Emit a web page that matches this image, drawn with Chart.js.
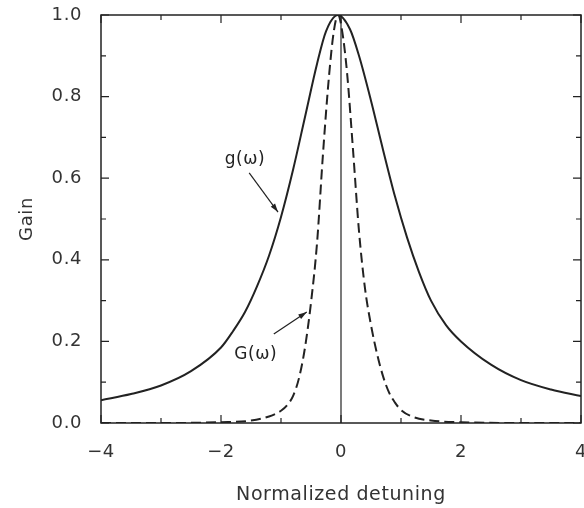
<!DOCTYPE html>
<html>
<head>
<meta charset="utf-8">
<script src="https://cdn.jsdelivr.net/npm/chart.js@4.4.0/dist/chart.umd.min.js"></script>
<style>
  html, body { margin: 0; padding: 0; background: #fff; }
</style>
</head>
<body>
<canvas id="chart" width="584" height="508"></canvas>
<script>
// solid curve g(w)
const smallGX = [-4, -3.5, -3, -2.5, -2, -1.8, -1.6, -1.4, -1.2, -1.0, -0.8, -0.6, -0.4, -0.25, -0.05, 0.15, 0.3, 0.5, 0.7, 0.9, 1.1, 1.3, 1.5, 1.75, 2.0, 2.5, 3.0, 3.5, 4.0];
const smallGY = [0.056, 0.071, 0.092, 0.127, 0.185, 0.225, 0.272, 0.335, 0.41, 0.505, 0.62, 0.75, 0.88, 0.96, 1.0, 0.965, 0.9, 0.79, 0.67, 0.555, 0.455, 0.37, 0.30, 0.24, 0.20, 0.143, 0.105, 0.082, 0.066];

// dashed curve G(w)
const bigGX = [-4, -3, -2, -1.5, -1.2, -1.0, -0.9, -0.8, -0.7, -0.6, -0.5, -0.4, -0.3, -0.2, -0.12, -0.05, 0.02, 0.1, 0.2, 0.3, 0.4, 0.5, 0.6, 0.7, 0.8, 0.9, 1.0, 1.2, 1.5, 2.0, 3.0, 4.0];
const bigGY = [0.0, 0.0, 0.002, 0.006, 0.016, 0.03, 0.043, 0.066, 0.11, 0.185, 0.295, 0.44, 0.66, 0.85, 0.96, 1.0, 0.96, 0.86, 0.67, 0.47, 0.33, 0.24, 0.17, 0.115, 0.075, 0.05, 0.032, 0.015, 0.006, 0.002, 0.0, 0.0];

// line at zero detuning
const zeroX = [0, 0];
const zeroY = [0, 1];

const xTicks = [-4, -2, 0, 2, 4];
const yTicks = [0, 0.2, 0.4, 0.6, 0.8, 1.0];

const toPoints = (xs, ys) => xs.map((v, i) => ({ x: v, y: ys[i] }));

const ink = "#222";
const font = "'DejaVu Sans', sans-serif";

// frame, inward ticks and the two labelled arrows
const framePlugin = {
  id: "frame",
  beforeDraw(chart) {
    chart.ctx.letterSpacing = "0.6px";
  },
  afterDatasetsDraw(chart) {
    const { ctx, chartArea: a, scales: { x, y } } = chart;
    ctx.save();
    ctx.strokeStyle = ink;
    ctx.lineWidth = 1.5;
    ctx.strokeRect(a.left, a.top, a.right - a.left, a.bottom - a.top);

    ctx.lineWidth = 1.2;
    ctx.beginPath();
    for (let v = -4; v <= 4; v++) {
      const px = x.getPixelForValue(v);
      const len = v % 2 === 0 ? 8 : 5;
      ctx.moveTo(px, a.bottom); ctx.lineTo(px, a.bottom - len);
      ctx.moveTo(px, a.top); ctx.lineTo(px, a.top + len);
    }
    for (let i = 0; i <= 10; i++) {
      const py = y.getPixelForValue(i / 10);
      const len = i % 2 === 0 ? 8 : 5;
      ctx.moveTo(a.left, py); ctx.lineTo(a.left + len, py);
      ctx.moveTo(a.right, py); ctx.lineTo(a.right - len, py);
    }
    ctx.stroke();

    const notes = [
      { text: "g(\u03c9)", tx: -1.6, ty: 0.645, from: [-1.53, 0.613], to: [-1.05, 0.517] },
      { text: "G(\u03c9)", tx: -1.42, ty: 0.167, from: [-1.12, 0.218], to: [-0.57, 0.272] }
    ];
    ctx.font = "17px " + font;
    ctx.fillStyle = ink;
    ctx.textAlign = "center";
    ctx.textBaseline = "middle";
    notes.forEach(n => {
      ctx.fillText(n.text, x.getPixelForValue(n.tx), y.getPixelForValue(n.ty));
      const x1 = x.getPixelForValue(n.from[0]), y1 = y.getPixelForValue(n.from[1]);
      const x2 = x.getPixelForValue(n.to[0]), y2 = y.getPixelForValue(n.to[1]);
      ctx.lineWidth = 1.2;
      ctx.beginPath();
      ctx.moveTo(x1, y1); ctx.lineTo(x2, y2);
      ctx.stroke();
      const ang = Math.atan2(y2 - y1, x2 - x1);
      ctx.beginPath();
      ctx.moveTo(x2, y2);
      ctx.lineTo(x2 - 9 * Math.cos(ang - 0.3), y2 - 9 * Math.sin(ang - 0.3));
      ctx.lineTo(x2 - 9 * Math.cos(ang + 0.3), y2 - 9 * Math.sin(ang + 0.3));
      ctx.closePath();
      ctx.fill();
    });
    ctx.restore();
  }
};

const ctx = document.getElementById("chart").getContext("2d");

const chart = new Chart(ctx, {
  type: "line",
  data: {
    datasets: [
      {
        label: "g(\u03c9)",
        data: toPoints(smallGX, smallGY),
        borderColor: ink,
        borderWidth: 2,
        pointRadius: 0,
        cubicInterpolationMode: "monotone"
      },
      {
        label: "G(\u03c9)",
        data: toPoints(bigGX, bigGY),
        borderColor: ink,
        borderWidth: 2,
        borderDash: [10, 5],
        pointRadius: 0,
        cubicInterpolationMode: "monotone"
      },
      {
        label: "zero",
        data: toPoints(zeroX, zeroY),
        borderColor: ink,
        borderWidth: 1.2,
        pointRadius: 0
      }
    ]
  },
  options: {
    responsive: false,
    animation: false,
    layout: { padding: { top: 15, left: 0, right: 3, bottom: 0 } },
    plugins: {
      legend: { display: false },
      tooltip: { enabled: false }
    },
    scales: {
      x: {
        type: "linear",
        min: -4,
        max: 4,
        grid: { display: false, drawTicks: false },
        border: { display: false },
        afterBuildTicks: s => { s.ticks = xTicks.map(v => ({ value: v })); },
        afterFit: s => { s.height = 85; s.paddingLeft = 0; s.paddingRight = 0; },
        ticks: {
          padding: 19,
          color: "#333",
          font: { family: font, size: 18 },
          maxRotation: 0,
          callback: v => (v < 0 ? "\u2212" + Math.abs(v) : String(v))
        },
        title: {
          display: true,
          text: "Normalized detuning",
          color: "#333",
          padding: { top: 0, bottom: 2 },
          font: { family: font, size: 19 }
        }
      },
      y: {
        min: 0,
        max: 1,
        grid: { display: false, drawTicks: false },
        border: { display: false },
        afterBuildTicks: s => { s.ticks = yTicks.map(v => ({ value: v })); },
        afterFit: s => { s.width = 101; s.paddingTop = 0; s.paddingBottom = 0; },
        ticks: {
          padding: 19,
          color: "#333",
          font: { family: font, size: 18 },
          callback: v => v.toFixed(1)
        },
        title: {
          display: true,
          text: "Gain",
          color: "#333",
          padding: { top: 17, bottom: 0 },
          font: { family: font, size: 18 }
        }
      }
    }
  },
  plugins: [framePlugin]
});
</script>
</body>
</html>
